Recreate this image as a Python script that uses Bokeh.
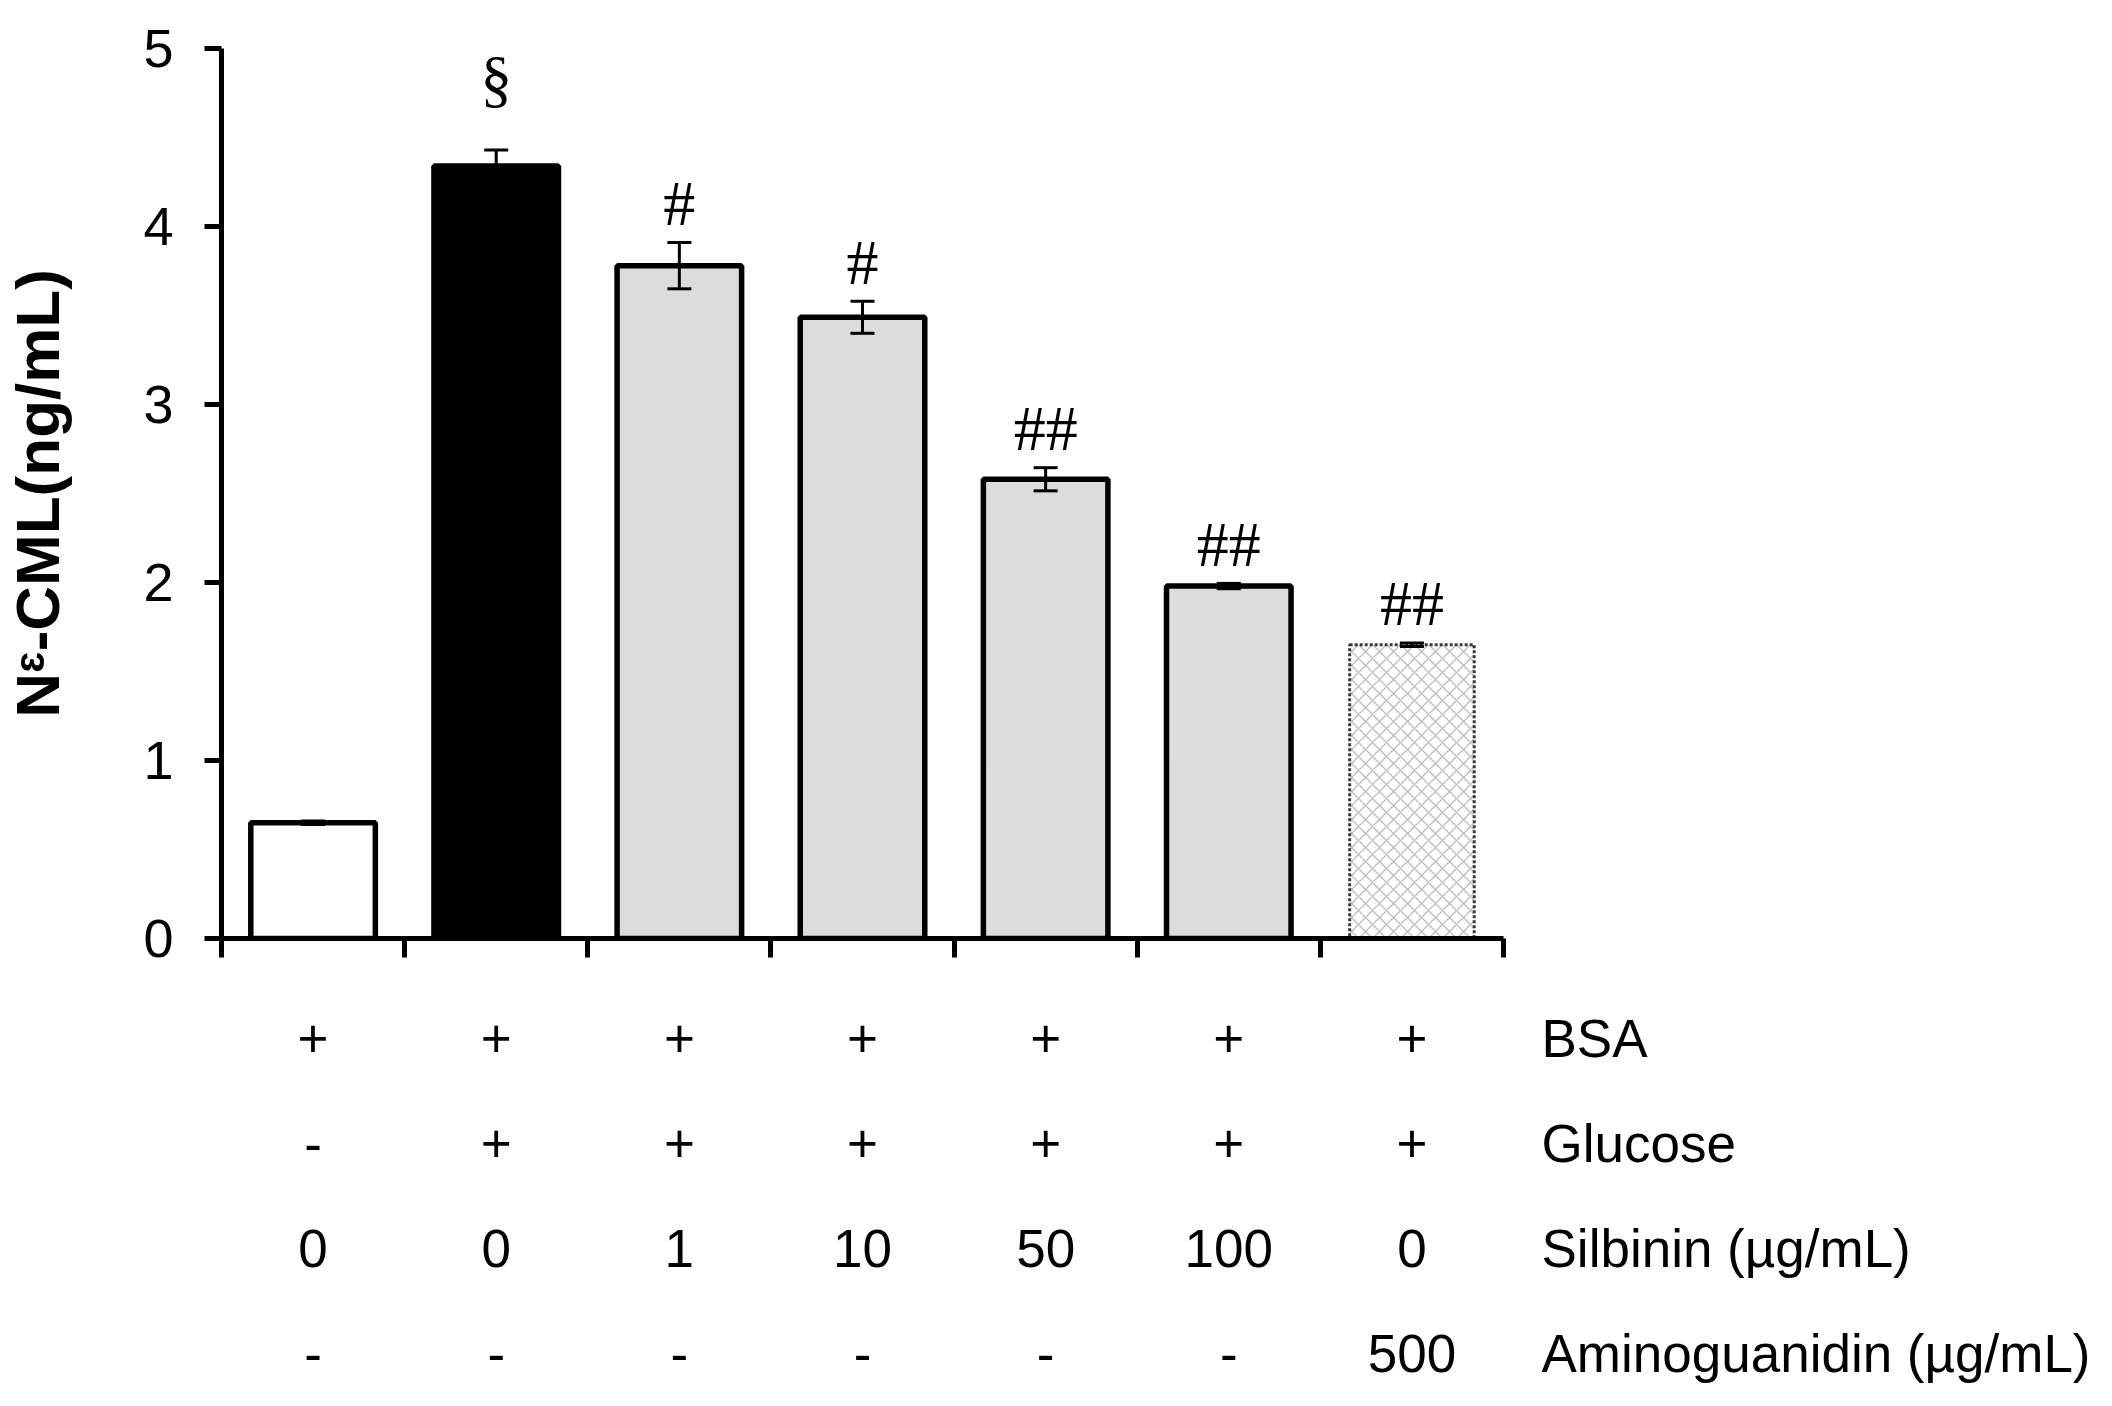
import numpy as np
from bokeh.plotting import figure
from bokeh.models import (Range1d, FixedTicker, ColumnDataSource, Whisker, TeeHead,
                          CDSView, IndexFilter)
from bokeh.layouts import column
from bokeh.core.properties import value
from bokeh.embed import file_html
from bokeh.resources import INLINE

# ---------------- data ----------------
groups = ["Control", "BSA+Glucose", "Silbinin 1", "Silbinin 10",
          "Silbinin 50", "Silbinin 100", "Aminoguanidin 500"]
means = [0.65, 4.34, 3.78, 3.49, 2.58, 1.98, 1.65]
sems = [0.01, 0.09, 0.13, 0.09, 0.065, 0.015, 0.01]
marks = ["", "§", "#", "#", "##", "##", "##"]

row_names = ["BSA", "Glucose", "Silbinin (µg/mL)", "Aminoguanidin  (µg/mL)"]
bsa_row = ["+", "+", "+", "+", "+", "+", "+"]
glucose_row = ["-", "+", "+", "+", "+", "+", "+"]
silbinin_row = ["0", "0", "1", "10", "50", "100", "0"]
amino_row = ["-", "-", "-", "-", "-", "-", "500"]

y_ticks = [0, 1, 2, 3, 4, 5]
y_label = "N\u1d4b-CML(ng/mL)"

# ---------------- styles ----------------
fills = ["white", "black", "#dcdcdc", "#dcdcdc", "#dcdcdc", "#dcdcdc", "white"]
SANS = "Liberation Sans"
SERIF = "Liberation Serif"

n = len(groups)
xs = np.arange(1, n + 1)
m = np.array(means)
e = np.array(sems)

# gap (data units) between error-bar top and the centre of the significance mark
mark_gap = np.array([0.40 if mk == "§" else 0.22 for mk in marks])

src = ColumnDataSource(dict(
    x=xs, top=m, upper=m + e, lower=m - e, fill=fills, mark=marks,
    mark_y=m + e + mark_gap,
))

top = figure(frame_width=1282, frame_height=890,
             x_range=Range1d(0.5, n + 0.5), y_range=Range1d(0, 5),
             output_backend="svg", toolbar_location=None,
             min_border_left=220, min_border_top=48, min_border_bottom=45,
             min_border_right=10)
top.outline_line_color = None
top.grid.visible = False
top.background_fill_color = "white"

solid_view = CDSView(filter=IndexFilter(list(range(n - 1))))
hatch_view = CDSView(filter=IndexFilter([n - 1]))
mark_view = CDSView(filter=IndexFilter([i for i, mk in enumerate(marks) if mk]))

top.vbar(x="x", top="top", width=0.68, bottom=0, source=src, view=solid_view,
         fill_color="fill", line_color="black", line_width=5.5)
top.vbar(x="x", top="top", width=0.68, bottom=0, source=src, view=hatch_view,
         fill_color="white", line_color="#3a3a3a", line_width=3, line_dash="3 2",
         hatch_pattern="diagonal_cross", hatch_color="#bcbcbc", hatch_scale=14,
         hatch_weight=1.3)

wh = Whisker(source=src, base="x", upper="upper", lower="lower",
             line_color="black", line_width=3, level="annotation",
             upper_head=TeeHead(size=24, line_width=3, line_color="black"),
             lower_head=TeeHead(size=24, line_width=3, line_color="black"))
top.add_layout(wh)

top.text(x="x", y="mark_y", text="mark", source=src, view=mark_view,
         text_font=value(SERIF), text_font_size="64px", text_color="black",
         text_align="center", text_baseline="middle")

# x axis: ticks between groups, no labels
x_ticks = [i + 0.5 for i in range(n + 1)]
top.xaxis.ticker = FixedTicker(ticks=x_ticks)
top.xaxis.major_label_overrides = {t: "" for t in x_ticks}
top.xaxis.major_tick_out = 19
top.xaxis.major_tick_in = 0
top.xaxis.minor_tick_out = 0
top.xaxis.minor_tick_in = 0
top.xaxis.axis_line_width = 5
top.xaxis.major_tick_line_width = 5
top.xaxis.axis_line_color = "black"
top.xaxis.major_tick_line_color = "black"

# y axis
top.yaxis.ticker = FixedTicker(ticks=y_ticks)
top.yaxis.major_tick_out = 17
top.yaxis.major_tick_in = 0
top.yaxis.minor_tick_out = 0
top.yaxis.minor_tick_in = 0
top.yaxis.axis_line_width = 5
top.yaxis.major_tick_line_width = 5
top.yaxis.axis_line_color = "black"
top.yaxis.major_tick_line_color = "black"
top.yaxis.major_label_text_font = SANS
top.yaxis.major_label_text_font_size = "54px"
top.yaxis.major_label_text_color = "black"
top.yaxis.major_label_standoff = 31
top.yaxis.axis_label = y_label
top.yaxis.axis_label_text_font = SANS
top.yaxis.axis_label_text_font_size = "62px"
top.yaxis.axis_label_text_font_style = "bold"
top.yaxis.axis_label_text_color = "black"
top.yaxis.axis_label_standoff = 68

# ---------------- treatment table ----------------
rows = [bsa_row, glucose_row, silbinin_row, amino_row]
row_y = [len(rows) - i for i in range(len(rows))]
tx, ty, tt = [], [], []
for ry, row in zip(row_y, rows):
    for xi, t in zip(xs, row):
        tx.append(xi)
        ty.append(ry)
        tt.append(t)
tsrc = ColumnDataSource(dict(x=tx, y=ty, t=tt))

bot = figure(frame_width=1282, frame_height=415,
             x_range=top.x_range, y_range=Range1d(0.572, 4.524),
             y_axis_location="right", x_axis_location=None,
             output_backend="svg", toolbar_location=None,
             min_border_left=220, min_border_top=0, min_border_bottom=0,
             min_border_right=4)
bot.outline_line_color = None
bot.grid.visible = False
bot.text(x="x", y="y", text="t", source=tsrc, text_font=value(SANS),
         text_font_size="53px", text_color="black", text_align="center",
         text_baseline="middle")

bot.yaxis.ticker = FixedTicker(ticks=row_y)
bot.yaxis.major_label_overrides = {ry: name for ry, name in zip(row_y, row_names)}
bot.yaxis.axis_line_color = None
bot.yaxis.major_tick_line_color = None
bot.yaxis.minor_tick_line_color = None
bot.yaxis.major_tick_out = 0
bot.yaxis.major_tick_in = 0
bot.yaxis.major_label_standoff = 38
bot.yaxis.major_label_text_font = SANS
bot.yaxis.major_label_text_font_size = "53px"
bot.yaxis.major_label_text_color = "black"

layout = column(top, bot, spacing=0)
open("out.html", "w").write(file_html(layout, INLINE))
